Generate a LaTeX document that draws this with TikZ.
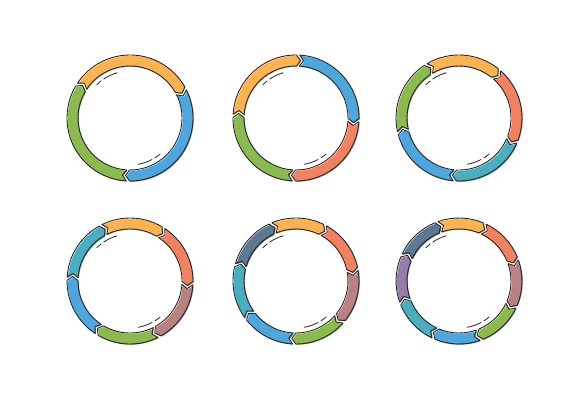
\documentclass[tikz,border=0pt]{standalone}
\usepackage{tikz}

\definecolor{orng}{RGB}{250,178,82}
\definecolor{blu}{RGB}{78,166,220}
\definecolor{grn}{RGB}{140,186,80}
\definecolor{salm}{RGB}{240,130,98}
\definecolor{teal}{RGB}{76,172,192}
\definecolor{mauv}{RGB}{184,130,130}
\definecolor{slat}{RGB}{92,120,146}
\definecolor{purp}{RGB}{150,126,172}

% ring sizes (pt)
\newcommand{\ringout}{63}
\newcommand{\ringin}{52}
\newcommand{\ringmid}{57.5}
\newcommand{\tipang}{4}

% one arrow segment, tail at \sa, head at \sb (clockwise)
\newcommand{\segpath}{(\sa:\ringout) arc[start angle=\sa, end angle=\sb, radius=\ringout]
	-- ({\sb-\tipang}:\ringmid) -- (\sb:\ringin)
	arc[start angle=\sb, end angle=\sa, radius=\ringin]
	-- ({\sa-\tipang}:\ringmid) -- cycle}

% #1 centre, #2 number of arrows, #3 first cut, #4 colours
\newcommand{\segring}[4]{%
	\foreach \col [count=\k from 0] in {#4} {
		\pgfmathsetmacro{\sa}{#3-\k*360/#2-1.5}
		\pgfmathsetmacro{\sb}{#3-(\k+1)*360/#2+1.5}
		\fill[\col, shift={(#1)}, xshift=0.8, yshift=-0.8] \segpath;
		\draw[segline, shift={(#1)}] \segpath;
	}
	\begin{scope}[shift={(#1)}]
		\draw[hilite] (135:47) arc[start angle=135, end angle=128, radius=47];
		\draw[hilite] (124:47) arc[start angle=124, end angle=106, radius=47];
		\draw[hilite] (-80:47) arc[start angle=-80, end angle=-62, radius=47];
		\draw[hilite] (-58:47) arc[start angle=-58, end angle=-50, radius=47];
	\end{scope}
}

\begin{document}
\begin{tikzpicture}[x=1pt,y=1pt,
		segline/.style={draw=black!85, line width=0.9pt, line join=round},
		hilite/.style={black!85, line width=0.8pt, line cap=round}]
	\useasboundingbox (0,0) rectangle (588,400);

	% centres of the six rings
	\coordinate (R3) at (130,282);
	\coordinate (R4) at (296,282);
	\coordinate (R5) at (459,282);
	\coordinate (R6) at (130,119);
	\coordinate (R7) at (296,119);
	\coordinate (R8) at (459,119);

	% top row
	\segring{R3}{3}{148}{orng,blu,grn}
	\segring{R4}{4}{178}{orng,blu,salm,grn}
	\segring{R5}{5}{122}{orng,salm,teal,blu,grn}

	% bottom row
	\segring{R6}{6}{118}{orng,salm,mauv,grn,blu,teal}
	\segring{R7}{7}{114}{orng,salm,mauv,grn,blu,teal,slat}
	\segring{R8}{8}{111}{orng,salm,mauv,grn,blu,teal,purp,slat}
\end{tikzpicture}
\end{document}
